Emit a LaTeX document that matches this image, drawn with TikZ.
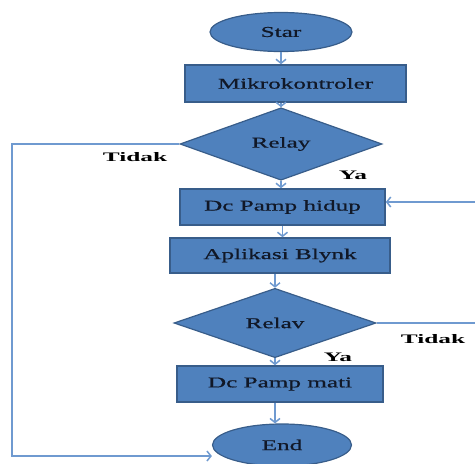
\documentclass[tikz,border=0pt]{standalone}
\usepackage{fontspec}
\setmainfont{Liberation Serif}
\newfontfamily\boxfont[FakeStretch=1.68,FakeBold=0.6]{Liberation Serif}
\newfontfamily\labfont[FakeStretch=1.95]{Liberation Serif}
\usepackage{tikz}
\usetikzlibrary{shapes.geometric,arrows.meta,positioning}

\definecolor{flowfill}{HTML}{4F81BD}
\definecolor{flowedge}{HTML}{385D8A}
\definecolor{flowline}{HTML}{6F9AD0}
\definecolor{flowtext}{HTML}{111827}

\tikzset{
  terminal/.style={ellipse, fill=flowfill, draw=flowedge, line width=1.2pt,
    inner sep=0pt, text=flowtext, font=\boxfont\fontsize{15}{17}\selectfont},
  procbox/.style={rectangle, fill=flowfill, draw=flowedge, line width=1.6pt,
    inner sep=0pt, text=flowtext, font=\boxfont\fontsize{15}{17}\selectfont},
  decision/.style={diamond, fill=flowfill, draw=flowedge, line width=1.2pt,
    inner sep=0pt, minimum width=202pt, minimum height=61pt,
    text=flowtext, font=\boxfont\fontsize{15}{17}\selectfont},
  answer/.style={text=black, font=\labfont\bfseries\fontsize{13}{15}\selectfont},
  flow/.style={flowline, line width=1.5pt},
  flowarrow/.style={flow, -{Straight Barb[length=4pt,width=10pt]}}
}

\begin{document}
\begin{tikzpicture}[x=1pt,y=-1pt]
  \useasboundingbox (0,0) rectangle (475,464);

  % Nodes
  \node[terminal, minimum width=142pt, minimum height=39pt] (start) at (281,32) {Star};
  \node[procbox, minimum width=221pt, minimum height=37pt] (micro) at (295.5,83.5) {Mikrokontroler};
  \node[decision] (relayA) at (281,144) {Relay};
  \node[procbox, minimum width=205pt, minimum height=36pt] (pumpon) at (282.5,207) {Dc Pamp hidup};
  \node[procbox, minimum width=220pt, minimum height=35pt] (blynk) at (280,255.5) {Aplikasi Blynk};
  \node[decision, minimum height=60pt] (relayB) at (275,323) {Relav};
  \node[procbox, minimum width=206pt, minimum height=36pt] (pumpoff) at (280,384) {Dc Pamp mati};
  \node[terminal, minimum width=139pt, minimum height=42pt] (finish) at (282,445) {End};

  % Loop corners
  \coordinate (leftturn) at (12,456);
  \coordinate (rightin) at (475,202);

  % Main flow
  \draw[flowarrow] (start.south) -- (start.south |- micro.north);
  \draw[flowarrow] (relayA.north |- micro.south) -- (relayA.north);
  \draw[flowarrow] (relayA.south) -- (relayA.south |- pumpon.north);
  \draw[flowarrow] (pumpon.south) -- (pumpon.south |- blynk.north);
  \draw[flowarrow] (relayB.north |- blynk.south) -- (relayB.north);
  \draw[flowarrow] (relayB.south) -- (relayB.south |- pumpoff.north);
  \draw[flowarrow] (relayB.south |- pumpoff.south) -- (relayB.south |- finish.north);

  % Tidak branches
  \draw[flowarrow] (relayA.west) -| (leftturn) -- (leftturn -| finish.west);
  \draw[flow] (relayB.east) -- (relayB.east -| rightin);
  \draw[flowarrow] (rightin) -- (rightin -| pumpon.east);

  % Labels
  \node[answer] (noA) at (135,157) {Tidak};
  \node[answer] (yesA) at (353,175) {Ya};
  \node[answer] (noB) at (433,339) {Tidak};
  \node[answer] (yesB) at (338,357) {Ya};
\end{tikzpicture}
\end{document}
